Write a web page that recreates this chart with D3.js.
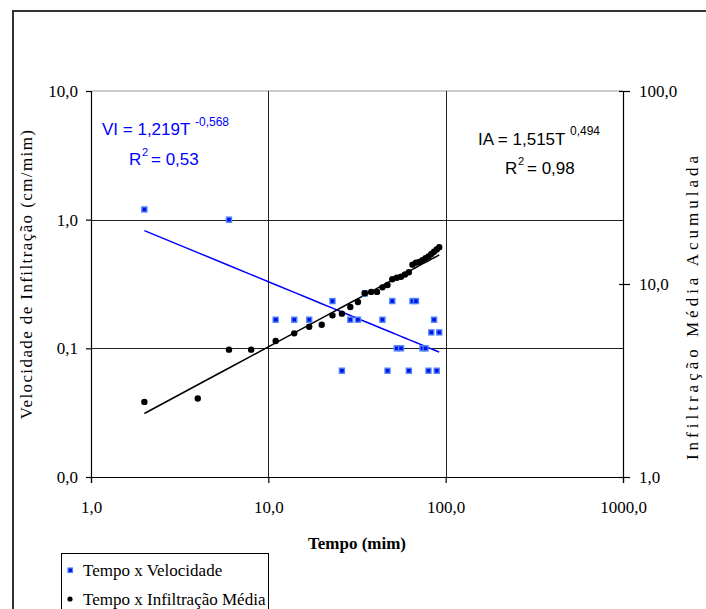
<!DOCTYPE html>
<html>
<head>
<meta charset="utf-8">
<script src="https://cdn.jsdelivr.net/npm/d3@7"></script>
<style>
  html, body { margin: 0; padding: 0; background: #fff; }
  svg { display: block; }
  .serif { font-family: "Liberation Serif", "Times New Roman", serif; }
  .sans { font-family: "Liberation Sans", Arial, sans-serif; }
</style>
</head>
<body>
<svg id="chart" width="706" height="609"></svg>
<script>
// Tempo (min) das leituras do infiltrômetro
const tempo = [2, 4, 6, 8, 11, 14, 17, 20, 23, 26, 29, 32, 35, 38, 41, 44, 47, 50,
               53, 56, 59, 62, 65, 68, 71, 74, 77, 80, 83, 86, 89, 92];

// Velocidade de infiltração (cm/min); null = sem leitura no gráfico log
const velocidade = [1.2, null, 1.0, null, 0.167, 0.167, 0.167, null, 0.233, 0.067,
                    0.167, 0.167, 0.267, null, null, 0.167, 0.067, 0.233, 0.1, 0.1,
                    null, 0.067, 0.233, 0.233, null, 0.1, 0.1, 0.067, 0.133, 0.167,
                    0.067, 0.133];

// Infiltração média acumulada (cm)
const infiltracao = [2.45, 2.55, 4.57, 4.57, 5.07, 5.55, 6.01, 6.15, 6.88, 7.02,
                     7.60, 8.07, 8.95, 9.1, 9.1, 9.61, 9.88, 10.58, 10.78, 10.91,
                     11.2, 11.5, 12.6, 12.9, 13.0, 13.3, 13.6, 13.9, 14.3, 14.7,
                     15.1, 15.5];

// Ajustes potenciais y = a * T^b
const ajusteVI = { a: 1.219, b: -0.568, r2: "0,53" };
const ajusteIA = { a: 1.515, b: 0.494, r2: "0,98" };

// Marcas dos eixos
const ticksX = [1, 10, 100, 1000];
const ticksVel = [0.01, 0.1, 1, 10];
const ticksInf = [1, 10, 100];

const legendItems = ["Tempo x Velocidade", "Tempo x Infiltração Média"];

const ptBR = d3.formatLocale({ decimal: ",", thousands: ".", grouping: [3], currency: ["R$", ""] });
const fmt = ptBR.format(".1f");

const svg = d3.select("#chart");
const BLUE = "#0000ff";

const plot = { left: 91, right: 623, top: 91, bottom: 477 };

const x = d3.scaleLog().domain([1, 1000]).range([plot.left, plot.right]);
const yV = d3.scaleLog().domain([0.01, 10]).range([plot.bottom, plot.top]);
const yI = d3.scaleLog().domain([1, 100]).range([plot.bottom, plot.top]);

// Moldura externa
svg.append("rect")
  .attr("x", 13).attr("y", 11).attr("width", 730).attr("height", 660)
  .attr("fill", "none").attr("stroke", "#333").attr("stroke-width", 2);

// Borda superior da área de plotagem
svg.append("line")
  .attr("x1", plot.left).attr("x2", plot.right)
  .attr("y1", plot.top).attr("y2", plot.top)
  .attr("stroke", "#999").attr("stroke-width", 1.2);

// Linhas de grade
const grid = svg.append("g").attr("stroke", "#222").attr("stroke-width", 1);
grid.selectAll("line.h")
  .data(ticksVel.filter(v => v > 0.01 && v < 10))
  .join("line")
  .attr("x1", plot.left).attr("x2", plot.right)
  .attr("y1", d => Math.round(yV(d)) + 0.5).attr("y2", d => Math.round(yV(d)) + 0.5);
grid.selectAll("line.v")
  .data(ticksX.filter(v => v > 1 && v < 1000))
  .join("line")
  .attr("y1", plot.top).attr("y2", plot.bottom)
  .attr("x1", d => Math.round(x(d)) + 0.5).attr("x2", d => Math.round(x(d)) + 0.5);

function styleAxis(g) {
  g.attr("font-family", null).attr("font-size", null);
  g.select(".domain").attr("stroke", "#000").attr("stroke-width", 1.2);
  g.selectAll(".tick line").attr("stroke", "#000").attr("stroke-width", 1.2);
  g.selectAll(".tick text")
    .attr("class", "serif")
    .style("font-size", "17px").attr("fill", "#000");
}

// Eixo X
svg.append("g")
  .attr("transform", `translate(0,${plot.bottom})`)
  .call(d3.axisBottom(x).tickValues(ticksX).tickFormat(fmt).tickSizeOuter(0).tickSize(6).tickPadding(18))
  .call(styleAxis);

// Eixo esquerdo (velocidade)
svg.append("g")
  .attr("transform", `translate(${plot.left},0)`)
  .call(d3.axisLeft(yV).tickValues(ticksVel).tickFormat(fmt).tickSizeOuter(0).tickSize(5).tickPadding(8))
  .call(styleAxis);

// Eixo direito (infiltração acumulada), marcas cruzando o eixo
const axR = svg.append("g")
  .attr("transform", `translate(${plot.right},0)`)
  .call(d3.axisRight(yI).tickValues(ticksInf).tickFormat(fmt).tickSizeOuter(0).tickSize(7).tickPadding(9))
  .call(styleAxis);
axR.selectAll(".tick line").attr("x1", -4);

// Curvas de ajuste
const lineVI = d3.line().x(t => x(t)).y(t => yV(ajusteVI.a * Math.pow(t, ajusteVI.b)));
const lineIA = d3.line().x(t => x(t)).y(t => yI(ajusteIA.a * Math.pow(t, ajusteIA.b)));

svg.append("path").datum(tempo)
  .attr("d", lineVI).attr("fill", "none").attr("stroke", BLUE).attr("stroke-width", 1.5);
svg.append("path").datum(tempo)
  .attr("d", lineIA).attr("fill", "none").attr("stroke", "#000").attr("stroke-width", 1.5);

// Pontos: velocidade (quadrados azuis)
const velPts = tempo.map((t, i) => ({ t, v: velocidade[i] })).filter(d => d.v != null);
svg.append("g").selectAll("rect")
  .data(velPts).join("rect")
  .attr("x", d => x(d.t) - 2.5).attr("y", d => yV(d.v) - 2.5)
  .attr("width", 5).attr("height", 5)
  .attr("fill", "#0010e0").attr("stroke", "#4a82ff").attr("stroke-width", 1.4);

// Pontos: infiltração (círculos pretos)
svg.append("g").selectAll("circle")
  .data(tempo.map((t, i) => ({ t, v: infiltracao[i] })))
  .join("circle")
  .attr("cx", d => x(d.t)).attr("cy", d => yI(d.v)).attr("r", 3.2)
  .attr("fill", "#000");

// Equações dos ajustes
const eqV = svg.append("g").attr("class", "sans").attr("fill", BLUE);
eqV.append("text").attr("x", 102).attr("y", 135).style("font-size", "17px")
  .text(`VI = ${String(ajusteVI.a).replace(".", ",")}T`);
eqV.append("text").attr("x", 195).attr("y", 126).style("font-size", "12px")
  .text(String(ajusteVI.b).replace(".", ","));
eqV.append("text").attr("x", 129).attr("y", 165).style("font-size", "17px").text("R");
eqV.append("text").attr("x", 142).attr("y", 156).style("font-size", "11px").text("2");
eqV.append("text").attr("x", 151).attr("y", 165).style("font-size", "17px").text(`= ${ajusteVI.r2}`);

const eqI = svg.append("g").attr("class", "sans").attr("fill", "#000");
eqI.append("text").attr("x", 478).attr("y", 145).style("font-size", "17px")
  .text(`IA = ${String(ajusteIA.a).replace(".", ",")}T`);
eqI.append("text").attr("x", 570).attr("y", 135).style("font-size", "12px")
  .text(String(ajusteIA.b).replace(".", ","));
eqI.append("text").attr("x", 505).attr("y", 174).style("font-size", "17px").text("R");
eqI.append("text").attr("x", 518).attr("y", 165).style("font-size", "11px").text("2");
eqI.append("text").attr("x", 527).attr("y", 174).style("font-size", "17px").text(`= ${ajusteIA.r2}`);

// Títulos dos eixos
svg.append("text")
  .attr("class", "serif")
  .attr("x", (plot.left + plot.right) / 2).attr("y", 549)
  .attr("text-anchor", "middle")
  .style("font-size", "17px").style("font-weight", "bold")
  .text("Tempo (mim)");

svg.append("text")
  .attr("class", "serif")
  .attr("transform", "translate(32,274) rotate(-90)")
  .attr("text-anchor", "middle")
  .style("font-size", "17px").style("letter-spacing", "1.4px")
  .text("Velocidade de Infiltração (cm/mim)");

svg.append("text")
  .attr("class", "serif")
  .attr("transform", "translate(698,306) rotate(-90)")
  .attr("text-anchor", "middle")
  .style("font-size", "17px").style("letter-spacing", "4px")
  .text("Infiltração Média Acumulada");

// Legenda
const leg = svg.append("g");
leg.append("rect")
  .attr("x", 61.5).attr("y", 553.5).attr("width", 207).attr("height", 70)
  .attr("fill", "#fff").attr("stroke", "#000").attr("stroke-width", 1);
leg.append("rect")
  .attr("x", 68).attr("y", 568).attr("width", 4.5).attr("height", 4.5)
  .attr("fill", "#0010e0").attr("stroke", "#4a82ff").attr("stroke-width", 1.2);
leg.append("circle").attr("cx", 70).attr("cy", 599).attr("r", 2.6).attr("fill", "#000");
leg.selectAll("text.item")
  .data(legendItems).join("text")
  .attr("class", "serif")
  .attr("x", 83).attr("y", (d, i) => 576 + i * 28.5)
  .style("font-size", "17px")
  .text(d => d);
</script>
</body>
</html>
